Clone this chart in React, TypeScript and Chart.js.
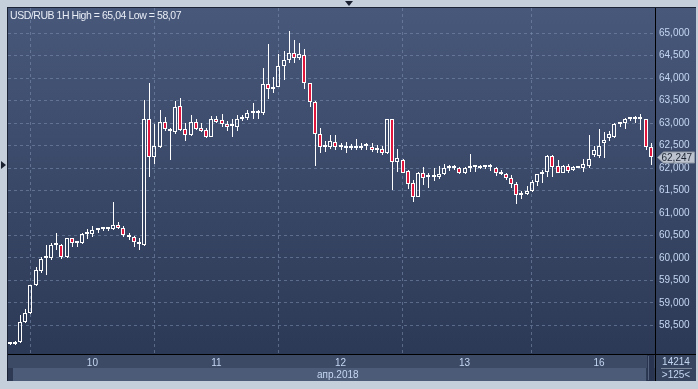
import React, { useEffect, useRef } from 'react';
import { Chart, registerables } from 'chart.js';

Chart.register(...registerables);

// ---- DATA (hourly candles, USD/RUB, 9–16 Apr 2018) ----
const open = [
  58.08, 58.09, 58.14, 58.57, 58.77, 59.39, 59.72, 59.99, 59.99, 60.29,
  60.29, 60.02, 60.44, 60.33, 60.34, 60.53, 60.53, 60.62, 60.64, 60.64,
  60.64, 60.73, 60.66, 60.52, 60.46, 60.35, 60.29, 63.08, 62.25, 62.46,
  63.02, 62.87, 62.81, 63.38, 62.87, 62.73, 63.02, 62.88, 62.84, 62.70,
  63.08, 63.07, 62.98, 62.93, 62.92, 63.10, 63.12, 63.23, 63.23, 63.22,
  63.87, 63.75, 63.81, 64.27, 64.41, 64.55, 64.44, 64.51, 63.88, 63.47,
  62.76, 62.47, 62.46, 62.57, 62.46, 62.45, 62.44, 62.45, 62.45, 62.49,
  62.46, 62.40, 62.42, 62.33, 63.08, 62.13, 62.18, 61.93, 61.66, 61.36,
  61.90, 61.79, 61.79, 61.81, 61.86, 61.99, 62.01, 62.00, 61.89, 61.99,
  62.03, 62.01, 62.03, 62.02, 62.01, 61.90, 61.87, 61.77, 61.64, 61.41,
  61.42, 61.49, 61.68, 61.86, 61.92, 62.27, 62.04, 61.90, 62.04, 61.96,
  62.00, 62.00, 62.05, 62.30, 62.27, 62.55, 62.66, 62.70, 62.98, 62.99,
  63.09, 63.09, 63.09, 63.10, 62.47,
];
const high = [
  58.11, 58.15, 58.73, 58.87, 59.41, 59.79, 60.03, 60.29, 60.34, 60.56,
  60.30, 60.45, 60.45, 60.38, 60.56, 60.64, 60.70, 60.66, 60.68, 60.67,
  61.24, 60.79, 60.70, 60.56, 60.49, 60.44, 63.51, 63.90, 62.98, 63.30,
  63.13, 62.88, 63.49, 63.55, 63.00, 63.18, 63.10, 62.99, 62.90, 63.16,
  63.16, 63.19, 63.04, 63.09, 63.18, 63.18, 63.29, 63.44, 63.30, 64.22,
  64.76, 64.03, 64.53, 64.59, 65.04, 64.84, 64.77, 64.64, 63.89, 63.50,
  62.88, 62.61, 62.73, 62.73, 62.55, 62.57, 62.53, 62.64, 62.55, 62.55,
  62.55, 62.51, 62.49, 63.10, 63.10, 62.42, 62.20, 61.96, 61.73, 61.91,
  62.03, 61.88, 62.01, 62.04, 62.10, 62.07, 62.07, 62.02, 62.03, 62.31,
  62.07, 62.07, 62.07, 62.08, 62.03, 61.96, 61.88, 61.84, 61.68, 61.49,
  61.60, 61.73, 61.87, 61.96, 62.29, 62.29, 62.18, 62.07, 62.09, 62.04,
  62.04, 62.20, 62.73, 62.49, 62.87, 62.79, 62.82, 62.99, 63.03, 63.12,
  63.13, 63.16, 63.19, 63.10, 62.55,
];
const low = [
  58.07, 58.07, 58.12, 58.55, 58.76, 59.38, 59.66, 59.62, 59.96, 60.18,
  59.98, 60.00, 60.25, 60.24, 60.32, 60.42, 60.47, 60.56, 60.61, 60.61,
  60.63, 60.64, 60.46, 60.40, 60.24, 60.18, 60.27, 61.81, 62.09, 62.44,
  62.83, 62.18, 62.75, 62.83, 62.59, 62.71, 62.84, 62.79, 62.66, 62.68,
  62.99, 62.92, 62.83, 62.70, 62.83, 63.05, 63.07, 63.08, 63.10, 63.18,
  63.53, 63.67, 63.79, 63.96, 64.33, 64.33, 64.41, 63.75, 63.35, 62.05,
  62.34, 62.36, 62.42, 62.40, 62.39, 62.33, 62.40, 62.41, 62.41, 62.40,
  62.36, 62.34, 62.29, 62.31, 61.50, 61.92, 61.88, 61.53, 61.25, 61.35,
  61.62, 61.56, 61.72, 61.75, 61.84, 61.94, 61.96, 61.87, 61.87, 61.92,
  61.92, 61.97, 61.98, 61.94, 61.83, 61.84, 61.73, 61.56, 61.19, 61.31,
  61.40, 61.46, 61.59, 61.66, 61.79, 61.79, 61.88, 61.88, 61.90, 61.94,
  61.99, 61.92, 62.01, 62.25, 62.23, 62.23, 62.61, 62.67, 62.92, 62.87,
  63.05, 63.01, 62.84, 62.39, 62.07,
];
const close = [
  58.10, 58.14, 58.57, 58.77, 59.40, 59.73, 59.98, 60.00, 60.29, 60.30,
  60.03, 60.44, 60.33, 60.34, 60.53, 60.54, 60.62, 60.64, 60.65, 60.65,
  60.73, 60.66, 60.50, 60.46, 60.35, 60.30, 63.08, 62.25, 62.49, 63.02,
  62.86, 62.82, 63.36, 62.85, 62.73, 63.02, 62.87, 62.83, 62.70, 63.08,
  63.03, 62.97, 62.92, 62.94, 63.10, 63.12, 63.22, 63.24, 63.24, 63.87,
  63.75, 63.81, 64.27, 64.41, 64.55, 64.44, 64.53, 63.88, 63.47, 62.76,
  62.47, 62.48, 62.59, 62.46, 62.46, 62.45, 62.45, 62.46, 62.49, 62.50,
  62.40, 62.41, 62.33, 63.08, 62.13, 62.22, 61.90, 61.65, 61.36, 61.90,
  61.77, 61.80, 61.82, 61.86, 61.99, 62.01, 62.02, 61.88, 61.99, 62.03,
  62.04, 62.04, 62.04, 62.03, 61.90, 61.86, 61.77, 61.64, 61.39, 61.42,
  61.49, 61.68, 61.86, 61.92, 62.27, 62.03, 61.90, 62.04, 61.94, 62.02,
  62.03, 62.10, 62.20, 62.41, 62.49, 62.62, 62.76, 62.98, 62.99, 63.09,
  63.10, 63.10, 63.10, 62.47, 62.247,
];
// candle index of the first hour of each day, and the day labels
const dayTickIndex = [16, 40, 64, 88, 114];
const dayTickLabels = ['10', '11', '12', '13', '16'];
const priceTicks = [58.5, 59, 59.5, 60, 60.5, 61, 61.5, 62, 62.5, 63, 63.5, 64, 64.5, 65];
const titleText = 'USD/RUB 1H High = 65,04 Low = 58,07';
const monthLabel = 'апр.2018';
const barsTotal = '14214';
const barsVisible = '>125<';

// ---- style ----
const FONT = '"Liberation Sans", Arial, sans-serif';
const RED = '#e0163c';
const GRID = 'rgba(125,145,178,0.55)';
const TICK_COLOR = '#c4d7f2';
const Y_MIN = 57.8444;
const Y_MAX = 65.5556;
const X_MIN = -0.33;
const X_MAX = 125.03;

const fmt3 = (v: number) => v.toFixed(3).replace('.', ',');

const decorPlugin = {
  id: 'decor',
  beforeDraw(chart: any) {
    const { ctx, chartArea: a, width, height } = chart;
    ctx.save();
    const g = ctx.createLinearGradient(0, a.top, 0, a.bottom);
    g.addColorStop(0, '#48587a');
    g.addColorStop(1, '#2c3956');
    ctx.fillStyle = g;
    ctx.fillRect(0, 0, width, a.bottom);
    // x-axis label row
    ctx.fillStyle = '#3c4a66';
    ctx.fillRect(0, a.bottom, width, 13);
    // month row
    ctx.fillStyle = '#2e3a54';
    ctx.fillRect(0, a.bottom + 13, a.right, height - a.bottom - 13);
    ctx.fillStyle = '#4c5b78';
    ctx.fillRect(5, a.bottom + 13, a.right - 15, height - a.bottom - 13);
    // scroller
    ctx.fillStyle = '#283450';
    ctx.fillRect(a.right - 9, a.bottom, 7, height - a.bottom);
    ctx.fillStyle = '#55627c';
    ctx.fillRect(a.right - 8, a.bottom + 1, 1, height - a.bottom - 2);
    // right info box
    ctx.fillStyle = '#36445f';
    ctx.fillRect(a.right, a.bottom, width - a.right, height - a.bottom);
    ctx.restore();
  },
  beforeDatasetsDraw(chart: any) {
    // snap candle elements (positioned by the scales) to whole pixels for crisp edges
    chart.data.datasets.forEach((_: any, di: number) => {
      const meta = chart.getDatasetMeta(di);
      const isBody = di === 0;
      meta.data.forEach((el: any) => {
        el.x = isBody ? Math.round(el.x) : Math.round(el.x) + 0.5;
        const top = Math.round(Math.min(el.y, el.base));
        let bot = Math.round(Math.max(el.y, el.base));
        if (isBody && bot - top < 2) bot = top + 2;
        el.y = top;
        el.base = bot;
      });
    });
  },
  afterDraw(chart: any) {
    const { ctx, chartArea: a, width, height } = chart;
    const yScale = chart.scales.y;
    ctx.save();
    // axis borders
    ctx.strokeStyle = '#000000';
    ctx.lineWidth = 1;
    ctx.beginPath();
    ctx.moveTo(a.right - 0.5, 0);
    ctx.lineTo(a.right - 0.5, height);
    ctx.moveTo(0, a.bottom - 0.5);
    ctx.lineTo(width, a.bottom - 0.5);
    ctx.stroke();
    // separator in right box
    ctx.strokeStyle = '#7c889c';
    ctx.beginPath();
    ctx.moveTo(a.right + 5, a.bottom + 13.5);
    ctx.lineTo(width - 4, a.bottom + 13.5);
    ctx.stroke();
    // last price tag
    const last = close.length - 1;
    const y = Math.round(yScale.getPixelForValue(close[last])) + 0.5;
    const x0 = a.right + 1.5;
    ctx.beginPath();
    ctx.moveTo(x0, y);
    ctx.lineTo(x0 + 6, y - 5.5);
    ctx.lineTo(width - 1.5, y - 5.5);
    ctx.lineTo(width - 1.5, y + 5.5);
    ctx.lineTo(x0 + 6, y + 5.5);
    ctx.closePath();
    ctx.fillStyle = '#bcc3ce';
    ctx.fill();
    ctx.strokeStyle = '#8c95a3';
    ctx.stroke();
    ctx.fillStyle = '#1c2434';
    ctx.font = `10px ${FONT}`;
    ctx.textBaseline = 'middle';
    ctx.textAlign = 'left';
    ctx.fillText(fmt3(close[last]), x0 + 4, y + 0.5);
    ctx.restore();
  },
};

export default function App() {
  const ref = useRef<HTMLCanvasElement | null>(null);

  useEffect(() => {
    const idx = open.map((_, i) => i);
    const bodies = idx.map((i) => ({ x: i, y: [open[i], close[i]] }));
    const upper = idx.map((i) => ({ x: i, y: [Math.max(open[i], close[i]), high[i]] }));
    const lower = idx.map((i) => ({ x: i, y: [low[i], Math.min(open[i], close[i])] }));
    const bodyColors = idx.map((i) => (close[i] >= open[i] ? 'rgba(0,0,0,0)' : RED));

    const chart = new Chart(ref.current as HTMLCanvasElement, {
      type: 'bar',
      data: {
        datasets: [
          {
            label: 'body',
            data: bodies as any,
            backgroundColor: bodyColors,
            borderColor: '#ffffff',
            borderWidth: 1,
            borderSkipped: false,
            barThickness: 4,
            minBarLength: 2,
            grouped: false,
            inflateAmount: 0,
            order: 0,
          } as any,
          {
            label: 'upper',
            data: upper as any,
            backgroundColor: '#ffffff',
            borderWidth: 0,
            barThickness: 1,
            grouped: false,
            inflateAmount: 0,
            order: 1,
          } as any,
          {
            label: 'lower',
            data: lower as any,
            backgroundColor: '#ffffff',
            borderWidth: 0,
            barThickness: 1,
            grouped: false,
            inflateAmount: 0,
            order: 1,
          } as any,
        ],
      },
      options: {
        animation: false,
        responsive: true,
        maintainAspectRatio: false,
        events: [],
        layout: { padding: 0 },
        plugins: {
          legend: { display: false },
          tooltip: { enabled: false },
          title: { display: false },
        },
        scales: {
          x: {
            type: 'linear',
            min: X_MIN,
            max: X_MAX,
            offset: false,
            grid: { color: GRID, lineWidth: 1, drawTicks: false },
            border: { display: false, dash: [3, 3] },
            ticks: {
              color: TICK_COLOR,
              font: { family: FONT, size: 10 },
              padding: 2,
              autoSkip: false,
              maxRotation: 0,
              callback: (v: any) => {
                const k = dayTickIndex.indexOf(Number(v));
                return k >= 0 ? dayTickLabels[k] : '';
              },
            },
            afterBuildTicks: (s: any) => {
              s.ticks = dayTickIndex.map((v) => ({ value: v }));
            },
            afterFit: (s: any) => {
              s.height = 26;
              s.paddingLeft = 0;
              s.paddingRight = 0;
            },
          } as any,
          y: {
            type: 'linear',
            position: 'right',
            min: Y_MIN,
            max: Y_MAX,
            grid: { color: GRID, lineWidth: 1, drawTicks: false },
            border: { display: false, dash: [3, 3] },
            ticks: {
              color: TICK_COLOR,
              font: { family: FONT, size: 10 },
              padding: 3,
              callback: (v: any) => fmt3(Number(v)),
            },
            afterBuildTicks: (s: any) => {
              s.ticks = priceTicks.map((v) => ({ value: v }));
            },
            afterFit: (s: any) => {
              s.width = 40;
              s.paddingTop = 0;
              s.paddingBottom = 0;
            },
          } as any,
        },
      },
      plugins: [decorPlugin],
    });
    return () => chart.destroy();
  }, []);

  const txt: React.CSSProperties = {
    position: 'absolute',
    fontFamily: FONT,
    fontSize: 10,
    color: TICK_COLOR,
    lineHeight: '12px',
    whiteSpace: 'nowrap',
  };

  return (
    <div
      style={{
        position: 'fixed',
        left: 0,
        top: 0,
        width: 698,
        height: 389,
        background: '#c5cfdc',
        overflow: 'hidden',
      }}
    >
      <div style={{ position: 'absolute', left: 7, top: 7, width: 689, height: 374, background: '#1b2436' }} />
      <div style={{ position: 'absolute', left: 8, top: 8, width: 688, height: 373 }}>
        <canvas ref={ref} />
      </div>
      <div style={{ ...txt, left: 10, top: 9, fontSize: 10.5, letterSpacing: '-0.45px', color: '#e8edf6' }}>{titleText}</div>
      <div style={{ ...txt, left: 317, top: 369 }}>{monthLabel}</div>
      <div style={{ ...txt, left: 656, width: 40, textAlign: 'center', top: 356 }}>{barsTotal}</div>
      <div style={{ ...txt, left: 656, width: 40, textAlign: 'center', top: 369 }}>{barsVisible}</div>
      <div
        style={{
          position: 'absolute',
          left: 345,
          top: 1,
          width: 0,
          height: 0,
          borderLeft: '4px solid transparent',
          borderRight: '4px solid transparent',
          borderTop: '5px solid #1a2030',
        }}
      />
      <div
        style={{
          position: 'absolute',
          left: 1,
          top: 161,
          width: 0,
          height: 0,
          borderTop: '4px solid transparent',
          borderBottom: '4px solid transparent',
          borderLeft: '5px solid #1a2030',
        }}
      />
    </div>
  );
}
